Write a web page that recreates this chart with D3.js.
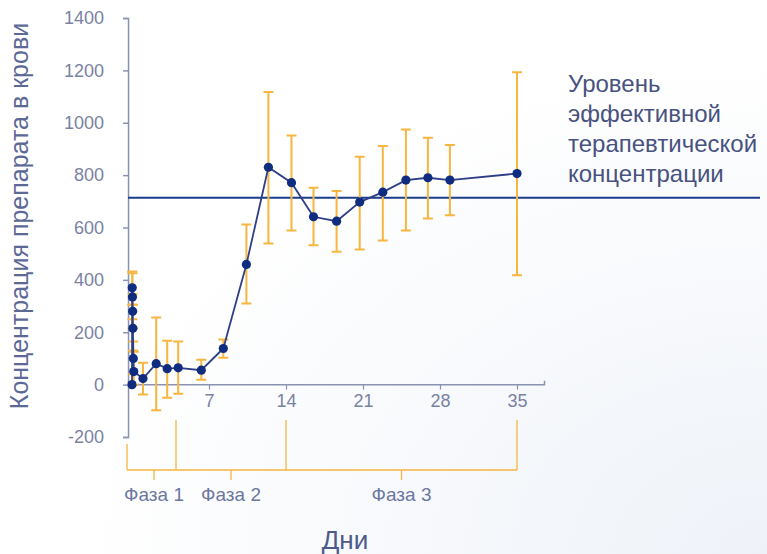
<!DOCTYPE html>
<html>
<head>
<meta charset="utf-8">
<script src="https://cdn.jsdelivr.net/npm/d3@7/dist/d3.min.js"></script>
<style>
  html, body { margin: 0; padding: 0; background: #ffffff; }
  svg { display: block; font-family: "Liberation Sans", Arial, sans-serif; }
</style>
</head>
<body>
<svg id="chart" width="767" height="554"></svg>
<script>
// ---- data ----
const days   = [0, 0.02, 0.04, 0.06, 0.08, 0.12, 0.16, 1, 2.2, 3.2, 4.2, 6.3, 8.3, 10.4, 12.4, 14.5, 16.5, 18.6, 20.7, 22.8, 24.9, 26.9, 28.9, 35];
const values = [0, 370, 335, 280, 215, 100, 50, 23, 80, 61, 64, 55, 138, 459, 830, 771, 641, 624, 697, 735, 781, 790, 781, 806];
const lows   = [0, 305, 250, 215, 130, 40, 0, -38, -98, -50, -35, 19, 103, 310, 539, 589, 532, 507, 516, 550, 589, 634, 647, 418];
const highs  = [0, 432, 425, 345, 305, 165, 126, 84, 256, 168, 165, 95, 172, 611, 1117, 951, 752, 739, 870, 911, 974, 943, 915, 1193];
const yTicks = [-200, 0, 200, 400, 600, 800, 1000, 1200, 1400];
const xTicks = [7, 14, 21, 28, 35];
const threshold = 714;
const thresholdLabel = ["Уровень", "эффективной", "терапевтической", "концентрации"];
const phaseBounds = [0, 4, 14, 35];
const phaseNames = ["Фаза 1", "Фаза 2", "Фаза 3"];
const yTitle = "Концентрация препарата в крови";
const xTitle = "Дни";

// ---- drawing ----
const svg = d3.select("#chart");
const defs = svg.append("defs");
const grad = defs.append("radialGradient").attr("id", "bg").attr("cx", "100%").attr("cy", "100%").attr("r", "90%");
grad.append("stop").attr("offset", "0%").attr("stop-color", "#eef2f8");
grad.append("stop").attr("offset", "100%").attr("stop-color", "#ffffff");
svg.append("rect").attr("width", 767).attr("height", 554).attr("fill", "url(#bg)");

const x = d3.scaleLinear().domain([0, 35]).range([132, 517]);
const y = d3.scaleLinear().domain([-200, 1400]).range([437, 18]);
const axisX0 = x(-0.36), axisX1 = x(37.5);

const axisColor = "#8a92b2";
const labelColor = "#7a82a2";
const navy = "#0f2c7e";
const orange = "#f6b640";
const fmt = d => String(d);

// y axis
const gy = svg.append("g").attr("transform", `translate(${axisX0},0)`)
  .call(d3.axisLeft(y).tickValues(yTicks).tickFormat(fmt).tickSize(5).tickSizeOuter(5).tickPadding(19));
gy.selectAll("path, line").attr("stroke", axisColor).attr("stroke-width", 1.5);
gy.selectAll("text").attr("fill", labelColor).style("font-size", "18px").style("font-family", "Liberation Sans, Arial, sans-serif");

// x axis
const gx = svg.append("g").attr("transform", `translate(0,${y(0)})`)
  .call(d3.axisBottom(x).tickValues(xTicks).tickFormat(fmt).tickSize(5).tickPadding(5));
gx.select(".domain").remove();
gx.selectAll("line").attr("stroke", axisColor).attr("stroke-width", 1.2);
gx.selectAll("text").attr("fill", labelColor).style("font-size", "18px").style("font-family", "Liberation Sans, Arial, sans-serif");
svg.append("path")
  .attr("d", `M${axisX0},${y(0)}H${axisX1}V${y(0) - 4}`)
  .attr("fill", "none").attr("stroke", axisColor).attr("stroke-width", 1.5);

// threshold line
svg.append("line")
  .attr("x1", axisX0).attr("x2", 760)
  .attr("y1", y(threshold)).attr("y2", y(threshold))
  .attr("stroke", "#1b3c8a").attr("stroke-width", 2);

// error bars
const pts = days.map((d, i) => ({ d, v: values[i], lo: lows[i], hi: highs[i] }));
const eb = svg.append("g").attr("stroke", orange).attr("stroke-width", 2).attr("fill", "none");
pts.filter(p => p.hi !== p.lo).forEach(p => {
  const cx = x(p.d), cw = 5;
  eb.append("path").attr("d",
    `M${cx},${y(p.hi)}V${y(p.lo)}M${cx - cw},${y(p.hi)}H${cx + cw}M${cx - cw},${y(p.lo)}H${cx + cw}`);
});

// line
svg.append("path").datum(pts)
  .attr("d", d3.line().x(p => x(p.d)).y(p => y(p.v)))
  .attr("fill", "none").attr("stroke", "#2d3f88").attr("stroke-width", 1.8);

// points
svg.append("g").selectAll("circle").data(pts).join("circle")
  .attr("cx", p => x(p.d)).attr("cy", p => y(p.v)).attr("r", 4.6).attr("fill", navy);

// threshold label
const tl = svg.append("text").attr("x", 568).attr("y", 92)
  .attr("fill", "#48527f").style("font-size", "24px");
thresholdLabel.forEach((s, i) => tl.append("tspan").attr("x", 568).attr("y", 92 + i * 30).text(s));

// y title
svg.append("text")
  .attr("transform", `translate(28,216) rotate(-90)`)
  .attr("text-anchor", "middle").attr("fill", "#5c6896")
  .style("font-size", "25px").text(yTitle);

// x title
svg.append("text").attr("x", 345).attr("y", 549).attr("text-anchor", "middle")
  .attr("fill", "#4d5a8c").style("font-size", "26px").text(xTitle);

// phase bracket
const by = 470;
const ph = svg.append("g").attr("stroke", orange).attr("stroke-width", 1.3).attr("fill", "none");
ph.append("line").attr("x1", axisX0 - 1).attr("x2", x(35)).attr("y1", by).attr("y2", by);
ph.append("line").attr("x1", axisX0 - 1).attr("x2", axisX0 - 1).attr("y1", 444).attr("y2", by);
phaseBounds.slice(1).forEach(b => {
  ph.append("line").attr("x1", x(b)).attr("x2", x(b)).attr("y1", 420).attr("y2", by);
});
phaseNames.forEach((n, i) => {
  const mx = x((phaseBounds[i] + phaseBounds[i + 1]) / 2);
  ph.append("line").attr("x1", mx).attr("x2", mx).attr("y1", by).attr("y2", by + 10);
  svg.append("text").attr("x", mx).attr("y", 501).attr("text-anchor", "middle")
    .attr("fill", "#6c77a0").style("font-size", "19px").text(n);
});
</script>
</body>
</html>
